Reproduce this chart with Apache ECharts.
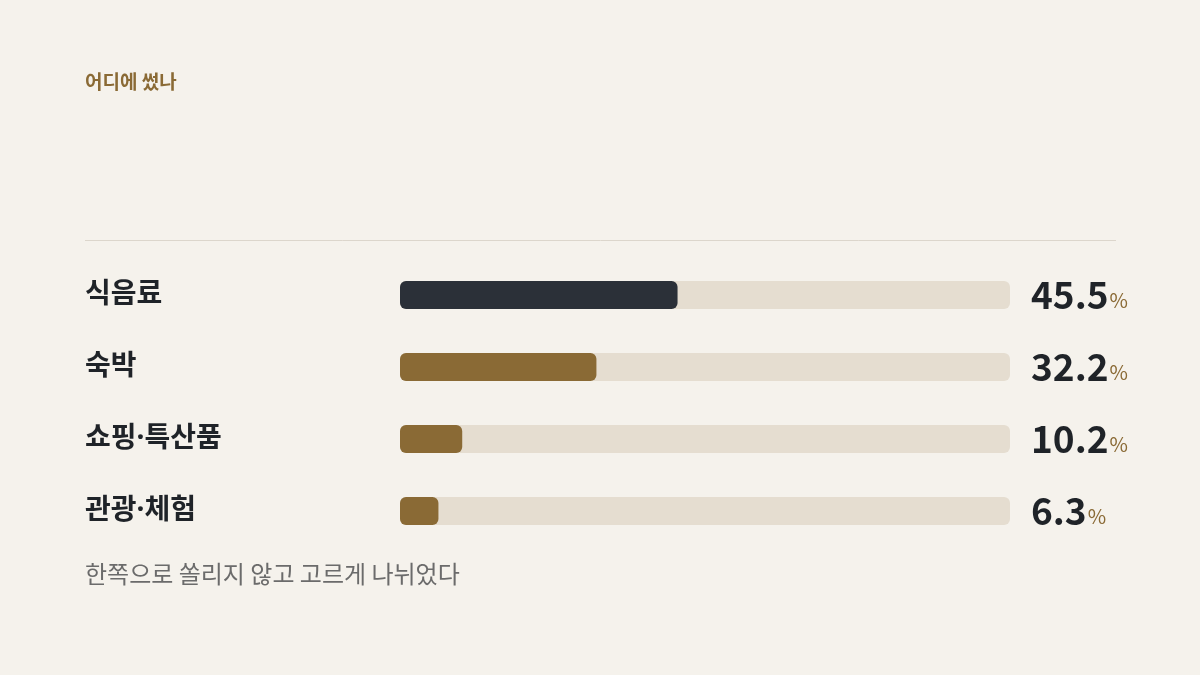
<!DOCTYPE html>
<html>
<head>
<meta charset="utf-8">
<script src="https://cdn.jsdelivr.net/npm/echarts@6/dist/echarts.min.js"></script>
<style>
  html, body { margin: 0; padding: 0; background: #f5f2ec; }
  #main { width: 1200px; height: 675px; }
</style>
</head>
<body>
<div id="main"></div>
<script>
// 지출 항목별 비율 (%)
var categories = ['식음료', '숙박', '쇼핑·특산품', '관광·체험'];
var values = [45.5, 32.2, 10.2, 6.3];
var trackMax = [100, 100, 100, 100];
var barColors = ['#2b3038', '#8a6a35', '#8a6a35', '#8a6a35'];

var font = '"Noto Sans CJK KR", "Noto Sans", sans-serif';
// 가운뎃점을 좁게 쓰려고 라틴 글꼴을 앞에 둠
var labelFont = '"Noto Sans", "Noto Sans CJK KR", sans-serif';

var chart = echarts.init(document.getElementById('main'));
var option = {
    backgroundColor: '#f5f2ec',
    animation: false,
    grid: {
        left: 400,
        right: 190,
        top: 259,
        height: 288
    },
    xAxis: {
        type: 'value',
        min: 0,
        max: 100,
        show: false
    },
    yAxis: {
        type: 'category',
        data: categories,
        inverse: true,
        axisLine: { show: false },
        axisTick: { show: false },
        splitLine: { show: false },
        axisLabel: {
            margin: 315,
            align: 'left',
            color: '#1f2328',
            fontSize: 28,
            fontWeight: 'bold',
            fontFamily: labelFont,
            padding: [0, 0, 2, 0]
        }
    },
    series: [
        {
            // 배경 트랙 + 오른쪽 값 라벨
            name: 'track',
            type: 'bar',
            data: trackMax,
            barWidth: 28,
            barGap: '-100%',
            silent: true,
            itemStyle: { color: '#e5ddd0', borderRadius: 6 },
            label: {
                show: true,
                position: 'right',
                distance: 21,
                formatter: function (p) {
                    return '{num|' + values[p.dataIndex] + '}{pct|%}';
                },
                rich: {
                    num: {
                        fontSize: 37,
                        fontWeight: 'bold',
                        color: '#1f2328',
                        fontFamily: font
                    },
                    pct: {
                        fontSize: 20,
                        color: '#8a6a35',
                        fontFamily: font,
                        padding: [10, 0, 0, 1]
                    }
                }
            }
        },
        {
            name: '비율',
            type: 'bar',
            data: values.map(function (v, i) {
                return { value: v, itemStyle: { color: barColors[i] } };
            }),
            barWidth: 28,
            barGap: '-100%',
            z: 3,
            itemStyle: { borderRadius: 6 }
        }
    ],
    graphic: [
        {
            type: 'text',
            left: 85,
            top: 72,
            style: {
                text: '어디에 썼나',
                fill: '#8a6a35',
                font: 'bold 19px ' + font
            }
        },
        {
            type: 'line',
            shape: { x1: 85, y1: 240.5, x2: 1116, y2: 240.5 },
            style: { stroke: '#dcd6cc', lineWidth: 1 }
        },
        {
            type: 'text',
            left: 85,
            top: 562,
            style: {
                text: '한쪽으로 쏠리지 않고 고르게 나뉘었다',
                fill: '#6b6b6b',
                font: '24px ' + font
            }
        }
    ]
};
chart.setOption(option);
</script>
</body>
</html>
